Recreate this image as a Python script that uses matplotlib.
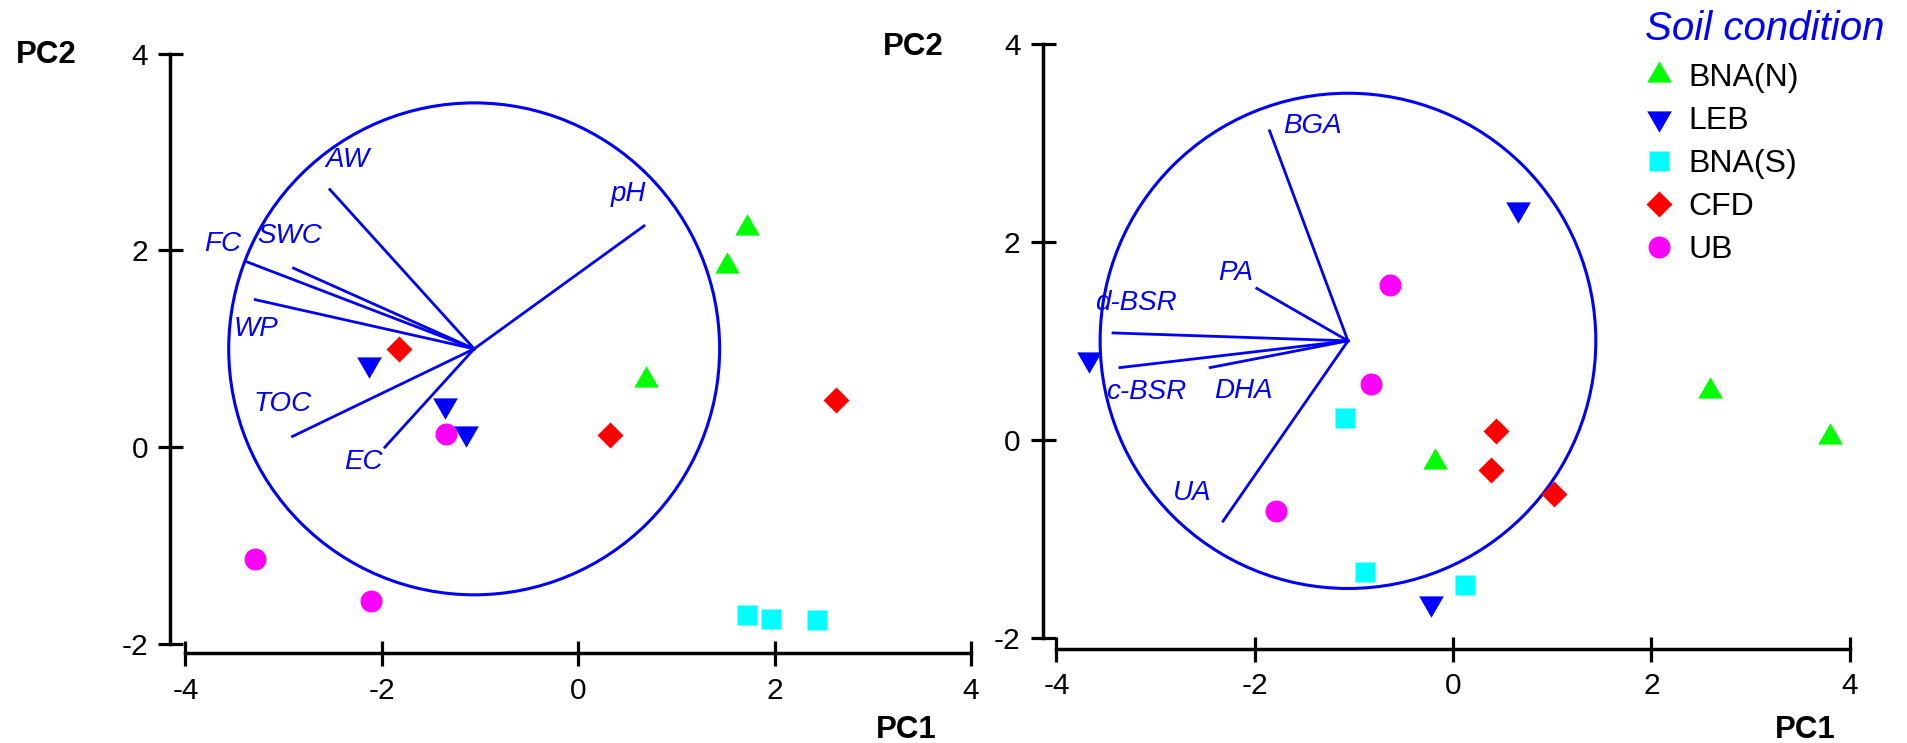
import numpy as np
import matplotlib.pyplot as plt
from matplotlib.patches import Ellipse
from matplotlib.lines import Line2D

plt.rcParams['font.family'] = ['Liberation Sans', 'DejaVu Sans']
plt.rcParams['axes.unicode_minus'] = False

# ---- data ----
groups = ['BNA(N)', 'LEB', 'BNA(S)', 'CFD', 'UB']

# left biplot (physico-chemical properties), scores per group
phys_pc1 = [[1.72, 1.51, 0.69],
            [-2.13, -1.36, -1.14],
            [1.72, 1.96, 2.43],
            [-1.83, 0.32, 2.63],
            [-1.35, -3.29, -2.11]]
phys_pc2 = [[2.23, 1.84, 0.68],
            [0.85, 0.43, 0.14],
            [-1.71, -1.75, -1.76],
            [1.00, 0.12, 0.48],
            [0.13, -1.14, -1.56]]
phys_vars = ['AW', 'pH', 'FC', 'SWC', 'WP', 'TOC', 'EC']
phys_load1 = [-2.53, 0.67, -3.39, -2.90, -3.29, -2.91, -1.97]
phys_load2 = [2.62, 2.25, 1.89, 1.82, 1.50, 0.11, 0.00]

# right biplot (biological properties), scores per group
bio_pc1 = [[-0.18, 2.59, 3.80],
           [0.66, -3.67, -0.22],
           [-1.09, -0.89, 0.12],
           [0.43, 0.38, 1.02],
           [-0.64, -0.83, -1.79]]
bio_pc2 = [[-0.22, 0.49, 0.03],
           [2.33, 0.82, -1.65],
           [0.22, -1.33, -1.46],
           [0.09, -0.30, -0.55],
           [1.56, 0.56, -0.72]]
bio_vars = ['BGA', 'PA', 'd-BSR', 'c-BSR', 'DHA', 'UA']
bio_load1 = [-1.85, -1.98, -3.43, -3.36, -2.45, -2.32]
bio_load2 = [3.12, 1.53, 1.08, 0.73, 0.73, -0.82]

# centre of loading vectors and correlation circle radius
circ_x = -1.06
circ_y = 1.0
circ_r = 2.5

# ---- styles / layout ----
colors = ['#00ff00', '#0000ff', '#00ffff', '#ff0000', '#ff00ff']
markers = [(3, 0, 0), (3, 0, 180), 's', 'D', 'o']
msizes = [20.5, 20.5, 15, 13.5, 15.8]
vec_blue = '#0000ff'

phys_lab = [(-2.35, 2.92), (0.51, 2.57), (-3.62, 2.07), (-2.94, 2.15),
            (-3.28, 1.20), (-3.01, 0.44), (-2.19, -0.15)]
bio_lab = [(-1.42, 3.17), (-2.19, 1.68), (-3.20, 1.38), (-3.10, 0.48),
           (-2.11, 0.49), (-2.63, -0.54)]

W, H = 1908, 743
fig = plt.figure(figsize=(W / 100, H / 100), dpi=100)


def biplot(ax, pc1, pc2, names, l1, l2, labpos, left_off, bottom_off):
    ax.add_patch(Ellipse((circ_x, circ_y), 2 * circ_r, 2 * circ_r, fill=False,
                         ec=vec_blue, lw=2.2, zorder=1))
    for x, y in zip(l1, l2):
        ax.plot([circ_x, x], [circ_y, y], color=vec_blue, lw=2.0, zorder=2)
    for n, (tx, ty) in zip(names, labpos):
        ax.text(tx, ty, n, color=vec_blue, fontsize=20, style='italic',
                ha='center', va='center')
    for i in range(len(groups)):
        ax.plot(pc1[i], pc2[i], ls='none', marker=markers[i], ms=msizes[i],
                color=colors[i], mec='none', zorder=3, clip_on=False)
    ax.set_xlim(-4, 4)
    ax.set_ylim(-2, 4)
    ax.set_xticks([-4, -2, 0, 2, 4])
    ax.set_yticks([-2, 0, 2, 4])
    for s in ['top', 'right']:
        ax.spines[s].set_visible(False)
    ax.spines['left'].set_position(('outward', left_off))
    ax.spines['bottom'].set_position(('outward', bottom_off))
    ax.spines['left'].set_bounds(-2, 4)
    ax.spines['bottom'].set_bounds(-4, 4)
    for s in ['left', 'bottom']:
        ax.spines[s].set_linewidth(2.5)
    ax.tick_params(direction='inout', length=18, width=2.3, labelsize=21.5)
    ax.tick_params(axis='x', pad=8)
    ax.tick_params(axis='y', pad=7)
    ax.patch.set_visible(False)


ax1 = fig.add_axes([185.5 / W, 1 - 644 / H, (971 - 185.5) / W, (644 - 53.7) / H])
biplot(ax1, phys_pc1, phys_pc2, phys_vars, phys_load1, phys_load2, phys_lab, 10.8, 6.8)

ax2 = fig.add_axes([1056.5 / W, 1 - 638 / H, (1849.6 - 1056.5) / W, (638 - 43.7) / H])
biplot(ax2, bio_pc1, bio_pc2, bio_vars, bio_load1, bio_load2, bio_lab, 10.0, 7.6)

# axis titles
fig.text(46 / W, 1 - 55 / H, 'PC2', fontsize=22.5, fontweight='bold', ha='center', va='center')
fig.text(906 / W, 1 - 730 / H, 'PC1', fontsize=22.5, fontweight='bold', ha='center', va='center')
fig.text(913 / W, 1 - 47 / H, 'PC2', fontsize=22.5, fontweight='bold', ha='center', va='center')
fig.text(1805 / W, 1 - 730 / H, 'PC1', fontsize=22.5, fontweight='bold', ha='center', va='center')

# legend
fig.text(1645 / W, 1 - 29 / H, 'Soil condition', fontsize=29, style='italic',
         color=vec_blue, ha='left', va='center')
handles = [Line2D([], [], ls='none', marker=markers[i], ms=msizes[i], color=colors[i], mec='none')
           for i in range(len(groups))]
leg = fig.legend(handles, groups, loc='upper left', bbox_to_anchor=(1645 / W, 1 - 63 / H),
                 frameon=False, fontsize=23, borderpad=0, borderaxespad=0,
                 handlelength=0.9, handletextpad=0.45, labelspacing=0.41)

fig.savefig('out.png', dpi=100)
